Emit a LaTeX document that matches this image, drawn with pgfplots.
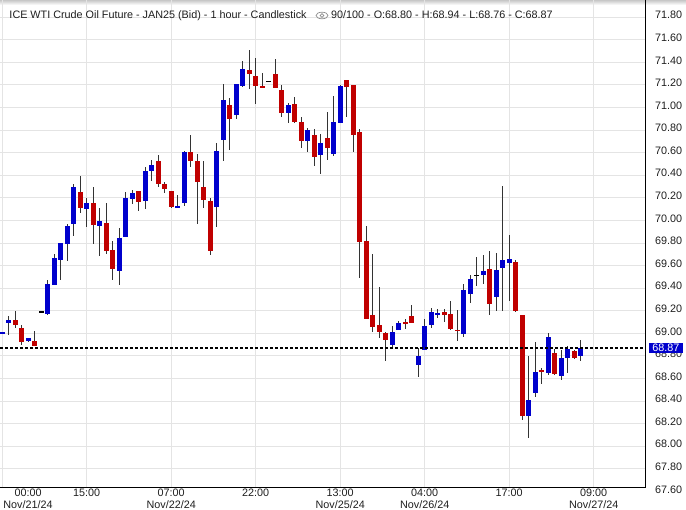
\documentclass[border=0pt]{standalone}
\usepackage{pgfplots}
\pgfplotsset{compat=1.18}
\usepackage{pgfplotstable}
\usepackage{fontspec}
\setmainfont{Liberation Sans}
\definecolor{upblue}{RGB}{0,0,204}
\definecolor{downred}{RGB}{192,0,0}
\definecolor{wick}{RGB}{51,51,51}
\definecolor{gridgray}{RGB}{228,228,228}
\definecolor{txt}{RGB}{30,30,30}

% rising candles: index, open, high, low, close
\pgfplotstableread{
x O H L C
0 69.00 69.01 69.00 69.01
1 69.09 69.15 68.99 69.12
4 68.93 68.96 68.92 68.96
7 69.17 69.47 69.16 69.44
8 69.43 69.70 69.43 69.67
9 69.65 69.80 69.47 69.80
10 69.79 69.97 69.64 69.95
11 69.97 70.32 69.86 70.30
13 70.10 70.20 69.94 70.15
15 69.95 70.11 69.69 70.00
18 69.55 69.93 69.43 69.84
19 69.85 70.25 69.85 70.20
20 70.19 70.27 70.15 70.24
22 70.17 70.47 70.10 70.44
23 70.44 70.54 70.35 70.49
27 70.11 70.23 70.11 70.13
28 70.15 70.62 70.13 70.61
33 70.12 70.69 69.94 70.62
34 70.71 71.21 70.53 71.07
36 70.93 71.21 70.90 71.21
37 71.19 71.41 71.18 71.34
44 70.95 71.04 70.86 71.02
47 70.70 70.82 70.61 70.80
49 70.58 70.77 70.41 70.69
51 70.59 71.10 70.57 70.87
52 70.86 71.20 70.86 71.19
60 68.90 69.07 68.86 69.01
61 69.03 69.11 69.03 69.09
64 68.72 68.87 68.61 68.80
65 68.85 69.13 68.85 69.07
66 69.07 69.22 69.05 69.19
67 69.17 69.22 69.14 69.18
71 68.99 69.44 68.97 69.38
72 69.35 69.52 69.27 69.48
74 69.52 69.69 69.44 69.55
76 69.32 69.71 69.20 69.56
77 69.58 70.31 69.20 69.65
78 69.62 69.87 69.29 69.66
81 68.27 68.80 68.07 68.41
82 68.47 68.92 68.44 68.66
84 68.65 69.00 68.63 68.97
86 68.62 68.85 68.59 68.78
87 68.78 68.89 68.65 68.86
89 68.80 68.94 68.76 68.87
}\upc

% falling candles
\pgfplotstableread{
x O H L C
2 69.12 69.20 69.05 69.07
3 69.05 69.07 68.90 68.92
5 68.93 69.02 68.89 68.89
12 70.25 70.39 70.07 70.11
14 70.15 70.30 69.79 69.96
16 69.98 70.15 69.70 69.73
17 69.74 69.82 69.47 69.57
21 70.26 70.26 70.08 70.16
24 70.53 70.58 70.30 70.32
25 70.32 70.34 70.24 70.28
26 70.26 70.26 70.11 70.12
29 70.61 70.76 70.47 70.53
30 70.53 70.59 69.97 70.34
31 70.30 70.53 70.11 70.18
32 70.17 70.20 69.69 69.73
35 71.02 71.08 70.62 70.90
38 71.33 71.51 71.16 71.30
39 71.28 71.44 71.03 71.19
40 71.19 71.31 71.17 71.17
42 71.30 71.43 71.17 71.17
43 71.16 71.20 70.92 70.95
45 71.03 71.09 70.86 70.87
46 70.87 70.92 70.64 70.70
48 70.76 70.81 70.48 70.56
50 70.73 70.96 70.54 70.64
53 71.24 71.24 70.92 71.18
54 71.20 71.20 70.61 70.76
55 70.78 70.81 69.49 69.81
56 69.82 69.95 69.13 69.13
57 69.16 69.70 69.01 69.06
58 69.07 69.41 68.96 69.01
59 69.00 69.01 68.76 68.94
62 69.10 69.13 69.04 69.08
63 69.15 69.25 69.09 69.09
68 69.19 69.22 69.10 69.16
69 69.17 69.29 69.03 69.04
70 69.03 69.21 68.93 69.02
75 69.57 69.73 69.16 69.26
79 69.63 69.65 69.19 69.20
80 69.16 69.16 68.23 68.27
83 68.67 68.69 68.55 68.66
85 68.83 68.86 68.63 68.64
88 68.84 68.85 68.77 68.78
}\downc

% unchanged (doji) candles
\pgfplotstableread{
x O H L C
6 69.19 69.19 69.19 69.19
41 71.23 71.23 71.23 71.23
73 69.51 69.68 69.42 69.51
}\dojic

\pgfplotsset{
  wickstyle/.style={draw=none, mark=none, forget plot,
    error bars/.cd, y dir=both, y explicit, error mark=none,
    error bar style={draw=wick, line width=1.1bp, solid}},
  bodystyle/.style={draw=none, mark=none, forget plot,
    error bars/.cd, y dir=both, y explicit, error mark=none,
    error bar style={draw=#1, line width=5bp, solid}},
}

\begin{document}
\begin{tikzpicture}[font=\fontsize{10.8bp}{12bp}\selectfont]
\shade[top color=black!22, bottom color=white] (0,482bp) rectangle (686bp,487bp);
\begin{axis}[
  at={(0,0)}, anchor=south west,
  width=645.5bp, height=487bp, scale only axis,
  xmin=-0.34, xmax=98.97, ymin=67.639, ymax=71.952,
  axis x line=bottom, axis y line=right,
  axis line style={-, black, line width=0.9bp},
  major tick length=0pt,
  xtick={13,26,39,52,65,78,91},
  xticklabels={15:00, {07:00\\Nov/22/24}, 22:00, {13:00\\Nov/25/24}, {04:00\\Nov/26/24}, 17:00, {09:00\\Nov/27/24}},
  extra x ticks={0},
  extra x tick labels={{00:00\\Nov/21/24}},
  extra x tick style={grid=major, tick label style={anchor=north west}},
  xticklabel style={align=center, inner sep=1bp, yshift=-0.5bp, text=txt},
  ytick={67.8,68.0,68.2,68.4,68.6,68.8,69.0,69.2,69.4,69.6,69.8,70.0,70.2,70.4,70.6,70.8,71.0,71.2,71.4,71.6,71.8},
  yticklabel style={text=txt, xshift=6bp, yshift=2bp,
    /pgf/number format/.cd, fixed, fixed zerofill, precision=2, assume math mode=true},
  grid=major,
  major grid style={gridgray, line width=0.9bp},
]
% wicks
\addplot[wickstyle] table[x=x, y expr={(\thisrow{H}+\thisrow{L})/2}, y error expr={(\thisrow{H}-\thisrow{L})/2}] {\upc};
\addplot[wickstyle] table[x=x, y expr={(\thisrow{H}+\thisrow{L})/2}, y error expr={(\thisrow{H}-\thisrow{L})/2}] {\downc};
\addplot[wickstyle] table[x=x, y expr={(\thisrow{H}+\thisrow{L})/2}, y error expr={(\thisrow{H}-\thisrow{L})/2}] {\dojic};
% bodies
\addplot[bodystyle=upblue] table[x=x, y expr={(\thisrow{O}+\thisrow{C})/2}, y error expr={max(abs(\thisrow{C}-\thisrow{O})/2,0.007)}] {\upc};
\addplot[bodystyle=downred] table[x=x, y expr={(\thisrow{O}+\thisrow{C})/2}, y error expr={max(abs(\thisrow{C}-\thisrow{O})/2,0.007)}] {\downc};
\addplot[black, only marks, mark=-, mark size=2.5bp, mark options={line width=1.3bp}, forget plot] table[x=x, y=C] {\dojic};
% last price line
\addplot[black, line width=1.2bp, dash pattern=on 3bp off 2bp, forget plot] coordinates {(-0.34,68.87) (98.97,68.87)};
\coordinate (last) at (axis cs:98.97,68.87);
\coordinate (bot) at (axis cs:98.97,67.6);
\end{axis}
\node[anchor=west, fill=upblue, text=white, inner xsep=3.5bp, inner ysep=1bp, minimum height=10bp] at ([xshift=3.2bp]last) {68.87};
\node[anchor=west, text=txt, xshift=6bp, yshift=2bp] at (bot) {67.60};
% title
\node[anchor=base west, inner sep=0pt, text=txt] at (9.3bp,468bp) {ICE WTI Crude Oil Future - JAN25 (Bid) - 1 hour - Candlestick};
\draw[black!45, line width=0.7bp] (322bp,471.5bp) ellipse (6bp and 3.3bp);
\draw[black!45, line width=0.7bp] (322bp,471.5bp) circle (1.8bp);
\node[anchor=base west, inner sep=0pt, text=txt] at (331bp,468bp) {90/100 - O:68.80 - H:68.94 - L:68.76 - C:68.87};
\pgfresetboundingbox
\useasboundingbox (0,-23bp) rectangle (686bp,487bp);
\end{tikzpicture}
\end{document}
